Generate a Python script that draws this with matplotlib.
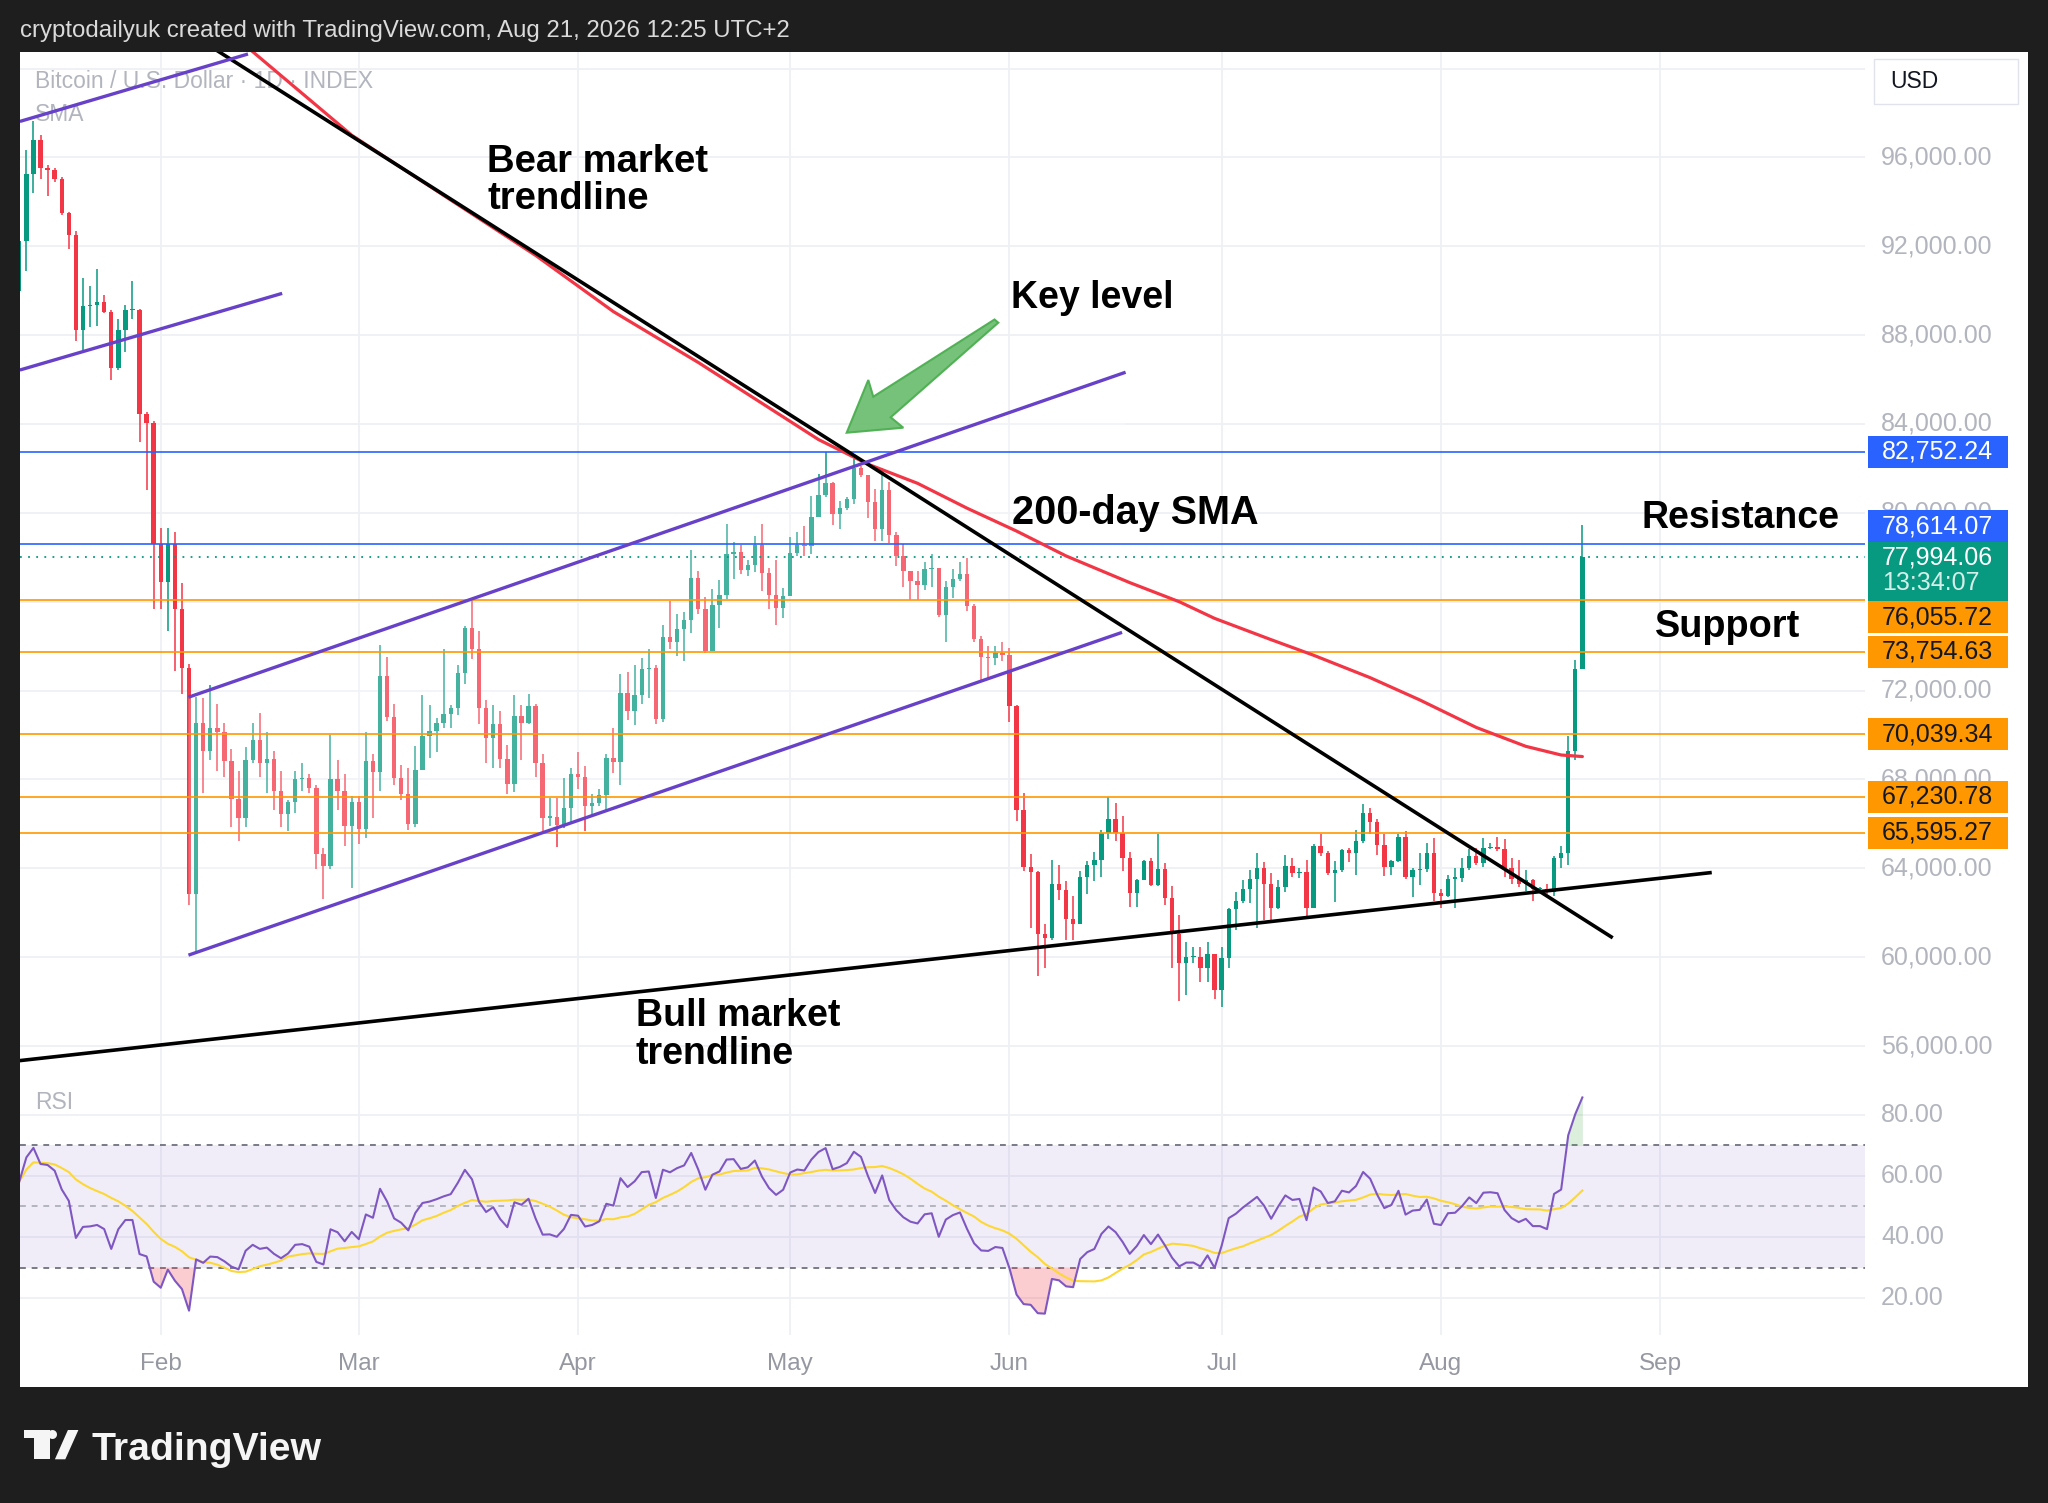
import numpy as np
import pandas as pd
import matplotlib
matplotlib.use('Agg')
import matplotlib.pyplot as plt
import matplotlib.dates as mdates
import matplotlib.transforms as mtransforms
from matplotlib.patches import Rectangle, Polygon

plt.rcParams['font.family'] = ['Liberation Sans', 'DejaVu Sans']

W, H = 2048, 1503

# ---- daily candles (high, low, close); open = previous close ----
first_open = 89990
jan = [(92400, 89700, 92250), (96320, 90870, 95270), (97650, 94390, 96770), (97020, 95010, 95520),
       (95640, 94260, 95440), (95520, 94890, 95010), (95140, 93400, 93510), (93560, 91870, 92500),
       (92700, 87730, 88230), (90570, 87350, 89310), (90190, 88360, 89360), (90990, 88430, 89490),
       (89790, 88980, 89030), (89110, 85970, 86520), (88730, 86420, 88230), (89360, 87230, 89110),
       (90420, 88730, 89110), (89190, 83210, 84460), (84540, 81040, 84060), (84130, 75670, 78610)]
feb = [(79310, 75670, 76870), (79310, 74660, 78610), (79130, 72900, 75670), (76850, 71850, 73030),
       (73210, 62350, 62850), (71700, 60220, 70520), (71650, 67380, 69260), (72230, 68880, 70320),
       (71400, 68380, 70140), (70520, 68130, 68830), (69390, 65870, 67120), (68380, 65240, 66250),
       (69460, 65870, 68880), (70520, 68760, 69760), (70970, 68130, 68760), (70140, 67380, 68930),
       (69260, 66620, 67500), (68380, 65870, 66450), (67070, 65670, 67000), (68380, 66500, 68000),
       (68760, 67500, 68080), (68260, 67380, 67630), (67750, 63980, 64660), (64910, 62600, 64110),
       (70010, 63980, 68000), (68880, 66620, 67500), (68260, 64990, 65920), (67250, 63100, 67000)]
mar = [(67250, 65110, 65790), (70140, 65370, 68830), (69130, 66250, 68330), (74030, 67500, 72650),
       (73530, 70640, 70820), (71400, 67750, 68080), (68630, 67070, 67330), (68510, 65740, 65990),
       (69510, 65870, 68440), (71780, 68430, 69960), (71350, 68950, 70180), (70780, 69240, 70530),
       (73880, 70330, 70930), (71330, 70330, 71230), (73150, 70880, 72800), (74900, 72280, 74830),
       (76050, 73400, 73850), (74680, 70480, 71230), (71570, 68760, 69880), (71350, 68530, 70480),
       (71080, 68530, 68910), (69540, 67330, 67780), (71810, 67440, 70850), (71350, 68880, 70530),
       (71860, 70480, 71300), (71380, 68130, 68760), (69130, 65610, 66280), (67180, 65910, 66310),
       (67180, 64940, 65940), (68080, 65830, 66730), (68530, 65980, 68230)]
apr = [(69250, 67560, 68130), (68610, 65690, 66810), (67330, 66360, 66960), (67560, 66810, 67290),
       (69130, 66630, 68980), (70330, 68310, 68800), (72760, 67740, 71900), (72830, 70680, 71080),
       (73130, 70450, 71780), (73480, 71380, 72950), (73850, 71680, 73030), (73130, 70480, 70710),
       (74930, 70590, 74420), (76050, 73850, 74180), (75430, 73550, 74780), (75530, 73330, 75170),
       (78350, 74570, 77070), (77400, 75460, 75680), (76200, 73700, 73780), (76580, 73780, 75840),
       (76970, 74800, 76320), (79500, 76130, 78170), (78690, 77030, 78240), (78570, 77270, 77420),
       (77870, 77150, 77640), (78950, 77330, 78570), (79500, 76470, 77300), (77520, 75680, 76320),
       (77870, 74950, 75720), (76620, 75280, 76250)]
may = [(78920, 76250, 78200), (79140, 78050, 78570), (79400, 78050, 78500), (80740, 78170, 79820),
       (81760, 79800, 80820), (82720, 80710, 81350), (81410, 79470, 79950), (80550, 79260, 80210),
       (80720, 80120, 80640), (82440, 80380, 82010), (82100, 81600, 81700), (81700, 79780, 80470),
       (81070, 78750, 79260), (82010, 78750, 81020), (81410, 78660, 79010), (79130, 77630, 78060),
       (78580, 76680, 77370), (77370, 76080, 76940), (77370, 76080, 76770), (77800, 76510, 77460),
       (78150, 76680, 77540), (77290, 75310, 75400), (76940, 74190, 76680), (77460, 76170, 77030),
       (77800, 76940, 77230), (77970, 75570, 75790), (75910, 74190, 74310), (74450, 72470, 73500),
       (74020, 72560, 73450), (74020, 73160, 73680), (74190, 73330, 73590)]
jun = [(73930, 70580, 71320), (71360, 66110, 66630), (67400, 63900, 64050), (64650, 61300, 63830),
       (63880, 59150, 61040), (61470, 59530, 60870), (64390, 60780, 63310), (64170, 62590, 63020),
       (63450, 60780, 61700), (62760, 60780, 61510), (63880, 61470, 63590), (64340, 62850, 64140),
       (64740, 63450, 64390), (65720, 63620, 65600), (67200, 65340, 66230), (66920, 65250, 65600),
       (66340, 63880, 64450), (64740, 62250, 62900), (63530, 62280, 63480), (64390, 63530, 64310),
       (64480, 63190, 63240), (65560, 63190, 63960), (64220, 62330, 62670), (63190, 59490, 61040),
       (61900, 58030, 59750), (60700, 58290, 60010), (60440, 59750, 60010), (60440, 58890, 59490),
       (60700, 58890, 60150), (60150, 58120, 58530)]
jul = [(60450, 57740, 59980), (62220, 59520, 62150), (62920, 61220, 62530), (63460, 62420, 63070),
       (63920, 62460, 63540), (64670, 61300, 64000), (64280, 61680, 63310), (63770, 61530, 62220),
       (63460, 62150, 63180), (64620, 62920, 64110), (64470, 63620, 63770), (64000, 63570, 63850),
       (64390, 61840, 62220), (65080, 62220, 65010), (65550, 64540, 64700), (64780, 63690, 63770),
       (64310, 62490, 63910), (64850, 63850, 64820), (64930, 64280, 64700), (65730, 63720, 65240),
       (66910, 65120, 66510), (66710, 65550, 66090), (66240, 64620, 65040), (65550, 63660, 64080),
       (64390, 63690, 64310), (65550, 64280, 65390), (65700, 63540, 63620), (64000, 62690, 63920),
       (64700, 63230, 63970), (65120, 63850, 64700), (65360, 62530, 62870)]
aug = [(63070, 62220, 62760), (63690, 62730, 63540), (64030, 62220, 63570), (64470, 63380, 64000),
       (64850, 63920, 64570), (64930, 64160, 64230), (65360, 64080, 64900), (65160, 64850, 64930),
       (65390, 64780, 64880), (65320, 63620, 64000), (64470, 63310, 63540), (64390, 63150, 63310),
       (63920, 63000, 63460), (63540, 62530, 63070), (63150, 62920, 63070), (63310, 62840, 62920),
       (64540, 62770, 64470), (65010, 64000, 64700), (69960, 64160, 69260), (73360, 68870, 72970),
       (79470, 72970, 77994.06)]

# 200-day SMA
sma_dates = ['2026-02-07', '2026-02-14', '2026-02-28', '2026-03-13', '2026-03-26', '2026-04-06',
             '2026-04-18', '2026-05-05', '2026-05-12', '2026-05-19', '2026-05-26', '2026-06-02',
             '2026-06-09', '2026-06-18', '2026-06-25', '2026-06-30', '2026-07-08', '2026-07-14',
             '2026-07-22', '2026-07-29', '2026-08-06', '2026-08-13', '2026-08-18', '2026-08-21']
sma_vals = [102600, 100760, 97000, 94290, 91590, 89060, 86770, 83300, 82190, 81330, 80210, 79180,
            78060, 76860, 76000, 75250, 74290, 73590, 72580, 71580, 70340, 69490, 69100, 69030]

resistance = [82752.24, 78614.07]
support = [76055.72, 73754.63, 70039.34, 67230.78, 65595.27]
last_price = 77994.06
countdown = '13:34:07'

price_ticks = [96000, 92000, 88000, 84000, 80000, 72000, 68000, 64000, 60000, 56000]
price_grid = list(range(56000, 100001, 4000))
rsi_ticks = [80, 60, 40, 20]
month_starts = ['2026-02-01', '2026-03-01', '2026-04-01', '2026-05-01',
                '2026-06-01', '2026-07-01', '2026-08-01', '2026-09-01']
month_labels = ['Feb', 'Mar', 'Apr', 'May', 'Jun', 'Jul', 'Aug', 'Sep']

# drawings: (start, end, colour)
trendlines = [
    (('2026-02-06 00:00', 101410), ('2026-08-25 07:00', 60870), '#000000'),  # bear market
    (('2026-01-12 00:00', 55340), ('2026-09-08 07:00', 63810), '#000000'),   # bull market
    (('2026-01-12 02:00', 97620), ('2026-02-13 08:00', 100655), '#6741c8'),
    (('2026-01-12 02:00', 86430), ('2026-02-18 04:00', 89880), '#6741c8'),
    (('2026-02-04 22:00', 71700), ('2026-06-17 10:00', 86330), '#6741c8'),  # channel top
    (('2026-02-04 22:00', 60090), ('2026-06-16 22:00', 74620), '#6741c8'),  # channel bottom
]

UP, DOWN = '#089981', '#f23645'
GRID = '#eef0f4'
LABEL = '#b2b5be'


def fx(x):
    return x / W


def fy(y):
    return 1 - y / H


def dnum(s):
    return mdates.date2num(pd.Timestamp(s))


bars = jan + feb + mar + apr + may + jun + jul + aug
dates = pd.date_range('2026-01-12', periods=len(bars), freq='D')
x = mdates.date2num(dates)
high = np.array([b[0] for b in bars], float)
low = np.array([b[1] for b in bars], float)
close = np.array([b[2] for b in bars], float)
opn = np.concatenate([[first_open], close[:-1]])

# RSI 14 (Wilder) + its 14 SMA
delta = np.diff(np.concatenate([[first_open], close]))
ag, al = 450.0, 450.0
rsi = []
for dv in delta:
    ag = (ag * 13 + max(dv, 0)) / 14
    al = (al * 13 + max(-dv, 0)) / 14
    rsi.append(100 - 100 / (1 + ag / al))
rsi = np.array(rsi)
rsi_ma = pd.Series(rsi).rolling(14, min_periods=1).mean().values

fig = plt.figure(figsize=(W / 100, H / 100), dpi=100, facecolor='#1e1e1e')
fig.add_artist(Rectangle((fx(20), fy(1387)), fx(2027.7) - fx(20), fy(51.7) - fy(1387),
                         transform=fig.transFigure, facecolor='white', edgecolor='none', zorder=-10))

ax = fig.add_axes([fx(20), fy(1080), fx(1865) - fx(20), fy(51.7) - fy(1080)])
axr = fig.add_axes([fx(20), fy(1335), fx(1865) - fx(20), fy(1080) - fy(1335)])
x0 = dnum('2026-02-01') - 19.9
x1 = dnum('2026-02-01') + 240.96
for a in (ax, axr):
    a.set_facecolor('none')
    a.set_xlim(x0, x1)
    for s in a.spines.values():
        s.set_visible(False)
    a.set_xticks([])
    a.set_yticks([])
    for m in month_starts:
        a.axvline(dnum(m), color=GRID, lw=1.3, zorder=0)
ax.set_ylim(54470, 100759)
axr.set_ylim(8.0, 91.3)

for p in price_grid:
    ax.axhline(p, color=GRID, lw=1.3, zorder=0)
for r in rsi_ticks:
    axr.axhline(r, color=GRID, lw=1.3, zorder=0)

# candles
col = np.where(close >= opn, UP, DOWN)
ax.vlines(x, low, high, colors=col, lw=1.1, zorder=2)
ax.bar(x, np.maximum(np.abs(close - opn), 60), bottom=np.minimum(opn, close),
       width=0.62, color=col, lw=0, zorder=2.1)

# channel background lightens the bars inside it
top, bot = trendlines[4], trendlines[5]
ax.add_patch(Polygon([(dnum(top[0][0]), top[0][1]), (dnum(top[1][0]), top[1][1]),
                      (dnum(bot[1][0]), bot[1][1]), (dnum(bot[0][0]), bot[0][1])],
                     closed=True, facecolor='white', alpha=0.25, edgecolor='none', zorder=2.5))

# horizontal levels
for lv in resistance:
    ax.axhline(lv, color='#2962ff', lw=1.2, zorder=3)
for lv in support:
    ax.axhline(lv, color='#ff9800', lw=1.2, zorder=3)
ax.axhline(last_price, color=UP, lw=1.3, ls=(0, (1, 3.5)), zorder=3)

# 200-day SMA
ax.plot([dnum(d) for d in sma_dates], sma_vals, color=DOWN, lw=2.3, zorder=3.2,
        solid_capstyle='round')

for (s, e, c) in trendlines:
    ax.plot([dnum(s[0]), dnum(e[0])], [s[1], e[1]], color=c,
            lw=2.6 if c == '#000000' else 2.4, zorder=3.5, solid_capstyle='butt')

# legends
ax.text(fx(34.8), fy(88.3), 'Bitcoin / U.S. Dollar \u00b7 1D \u00b7 INDEX', transform=fig.transFigure,
        color=LABEL, fontsize=16.5, va='baseline', zorder=1)
ax.text(fx(34.8), fy(120.7), 'SMA', transform=fig.transFigure, color=LABEL, fontsize=16.5,
        va='baseline', zorder=1)
axr.text(fx(34.8), fy(1109), 'RSI', transform=fig.transFigure, color=LABEL, fontsize=16.5,
         va='baseline', zorder=1)

# RSI pane
axr.axhspan(30, 70, color='#7e57c2', alpha=0.1, lw=0, zorder=0.5)
axr.axhline(70, color='#787b86', lw=1.4, ls=(0, (3, 3)), zorder=1)
axr.axhline(30, color='#787b86', lw=1.4, ls=(0, (3, 3)), zorder=1)
axr.axhline(50, color='#b2b5be', lw=1.4, ls=(0, (3, 3)), zorder=1)
axr.fill_between(x, rsi, 70, where=rsi > 70, interpolate=True, color='#4caf50', alpha=0.2, lw=0)
axr.fill_between(x, rsi, 30, where=rsi < 30, interpolate=True, color=DOWN, alpha=0.25, lw=0)
axr.plot(x, rsi_ma, color='#fdd835', lw=1.5, zorder=2)
axr.plot(x, rsi, color='#7e57c2', lw=1.5, zorder=3)

# axis labels
tp = mtransforms.blended_transform_factory(fig.transFigure, ax.transData)
for p in price_ticks:
    ax.text(fx(1881), p, f'{p:,.2f}', transform=tp, color=LABEL, fontsize=18,
            va='center', ha='left', clip_on=False)
tr = mtransforms.blended_transform_factory(fig.transFigure, axr.transData)
for r in rsi_ticks:
    axr.text(fx(1881), r, f'{r:.2f}', transform=tr, color=LABEL, fontsize=18,
             va='center', ha='left', clip_on=False)
tm = mtransforms.blended_transform_factory(axr.transData, fig.transFigure)
for m, lab in zip(month_starts, month_labels):
    axr.text(dnum(m), fy(1363.6), lab, transform=tm, color='#9598a1', fontsize=17.5,
             ha='center', va='center', clip_on=False)


def img_y(price):
    return H - ax.transData.transform((x0, price))[1]


def price_box(yc, h, fc):
    fig.add_artist(Rectangle((fx(1867.7), fy(yc + h / 2)), fx(2007.7) - fx(1867.7), h / H,
                             transform=fig.transFigure, facecolor=fc, edgecolor='none', zorder=5))


boxes = [(resistance[0], '#2962ff', 'white', 0), (resistance[1], '#2962ff', 'white', -17.5),
         (support[0], '#ff9800', '#131722', 17), (support[1], '#ff9800', '#131722', 0),
         (support[2], '#ff9800', '#131722', 0), (support[3], '#ff9800', '#131722', 0),
         (support[4], '#ff9800', '#131722', 0)]
for lv, fc, tc, shift in boxes:
    yc = img_y(lv) + shift
    price_box(yc, 32, fc)
    fig.text(fx(1882), fy(yc), f'{lv:,.2f}', color=tc, fontsize=18, va='center', ha='left', zorder=6)

yl = img_y(last_price)
price_box(yl + 14.1, 58.7, UP)
fig.text(fx(1882), fy(yl), f'{last_price:,.2f}', color='white', fontsize=18, va='center',
         ha='left', zorder=6)
fig.text(fx(1882), fy(yl + 26), countdown, color='#d4efe9', fontsize=18, va='center',
         ha='left', zorder=6)

# currency box
fig.add_artist(Rectangle((fx(1874), fy(104)), fx(2018) - fx(1874), 45 / H, transform=fig.transFigure,
                         facecolor='white', edgecolor='#e0e3eb', lw=1, zorder=5))
fig.text(fx(1890), fy(81.5), 'USD', color='#131722', fontsize=16.5, va='center', ha='left', zorder=6)

# annotations
notes = [('Bear market', 487, 171.7, 27.5), ('trendline', 487, 209.3, 27.5),
         ('Key level', 1011, 308.3, 27), ('200-day SMA', 1012, 523.5, 28.5),
         ('Resistance', 1641, 528.3, 27), ('Support', 1655, 636.7, 27.3),
         ('Bull market', 636, 1025.5, 27), ('trendline', 636, 1063.5, 27)]
for txt, px, py, fs in notes:
    fig.text(fx(px), fy(py), txt, fontsize=fs, fontweight='bold', color='black',
             va='baseline', ha='left', zorder=6)

arrow_px = [(846.7, 432.7), (903.3, 427.7), (890.7, 417.3), (998.3, 322.7),
            (994.5, 319.5), (873.3, 396.7), (868.3, 380.0)]
fig.add_artist(Polygon([(fx(a), fy(b)) for a, b in arrow_px], closed=True, transform=fig.transFigure,
                       facecolor='#6fbf73', edgecolor='#4caf50', lw=1.5, alpha=0.95, zorder=6))

# header and footer
fig.text(fx(20), fy(37.3), 'cryptodailyuk created with TradingView.com, Aug 21, 2026 12:25 UTC+2',
         color='#dadada', fontsize=17.3, va='baseline', ha='left')
logo = '#f5f5f5'
fig.add_artist(Rectangle((fx(23.5), fy(1438.3)), fx(49.6) - fx(23.5), 8.3 / H,
                         transform=fig.transFigure, facecolor=logo, edgecolor='none'))
fig.add_artist(Rectangle((fx(34), fy(1459.3)), fx(49.6) - fx(34), 29.3 / H,
                         transform=fig.transFigure, facecolor=logo, edgecolor='none'))
fig.add_artist(Polygon([(fx(54.9), fy(1459.3)), (fx(65.3), fy(1459.3)), (fx(78.4), fy(1430)),
                        (fx(67.9), fy(1430))], closed=True, transform=fig.transFigure,
                       facecolor=logo, edgecolor='none'))
fig.add_artist(Polygon([(fx(52.5 + 4.5 * np.cos(t)), fy(1434.5 + 4.5 * np.sin(t)))
                        for t in np.linspace(0, 2 * np.pi, 30)], closed=True,
                       transform=fig.transFigure, facecolor=logo, edgecolor='none'))
fig.text(fx(91.4), fy(1460), 'TradingView', color=logo, fontsize=28.3, fontweight='bold',
         va='baseline', ha='left')

fig.savefig('out.png', dpi=100, facecolor=fig.get_facecolor())
